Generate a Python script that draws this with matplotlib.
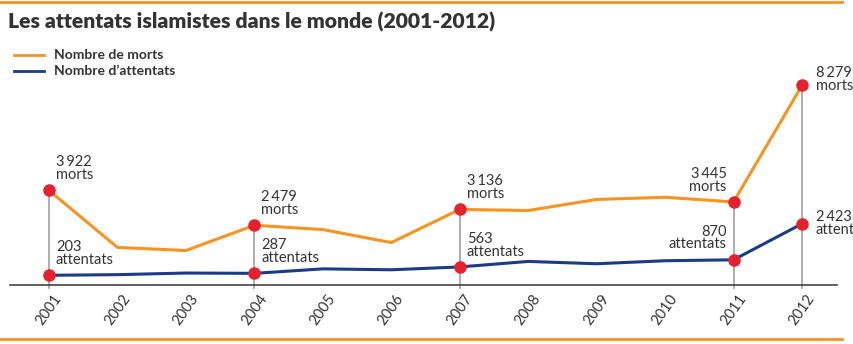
import matplotlib.pyplot as plt
from matplotlib.lines import Line2D

annees = [2001, 2002, 2003, 2004, 2005, 2006, 2007, 2008, 2009, 2010, 2011, 2012]
morts = [3922, 1560, 1430, 2479, 2300, 1760, 3136, 3090, 3550, 3640, 3445, 8279]
attentats = [203, 230, 300, 287, 480, 440, 563, 800, 700, 830, 870, 2423]

# annees mises en avant (points rouges + etiquettes)
annees_cles = [2001, 2004, 2007, 2011, 2012]
lab_morts = ["3\u2009922", "2\u2009479", "3\u2009136", "3\u2009445", "8\u2009279"]
lab_att = ["203", "287", "563", "870", "2\u2009423"]

ORANGE = "#F7931E"
BLEU = "#1B3A87"
ROUGE = "#E8202D"
TEXTE = "#333333"

plt.rcParams['font.family'] = ['Lato', 'DejaVu Sans']

fig = plt.figure(figsize=(8.54, 3.44), dpi=100)
W, H = 854, 344
ax = fig.add_axes([10 / W, 1 - 285 / H, 827 / W, 200 / H])
# la courbe des attentats n'est pas tout a fait a la meme echelle sur l'original
ax2 = ax.twinx()

ax.plot(annees, morts, color=ORANGE, lw=2.2, zorder=3)
ax2.plot(annees, attentats, color=BLEU, lw=2.2, zorder=3)

for a in annees_cles:
    i = annees.index(a)
    ax.plot([a, a], [-120, morts[i]], color="#A0A0A0", lw=1.2, zorder=2, clip_on=False)
    ax.plot([a], [morts[i]], 'o', color=ROUGE, ms=8, zorder=4, clip_on=False)
    ax2.plot([a], [attentats[i]], 'o', color=ROUGE, ms=8, zorder=4, clip_on=False)

# etiquettes
fs = 10.5
pos = {2001: ('left', 5), 2004: ('left', 5), 2007: ('left', 5), 2011: ('right', -5), 2012: ('left', 10)}
for k, a in enumerate(annees_cles):
    i = annees.index(a)
    ha, dx = pos[a]
    if a == 2012:
        ax.annotate(lab_morts[k] + "\nmorts", (a, morts[i]), xytext=(dx, 4), textcoords='offset points',
                    ha=ha, va='center', fontsize=fs, color=TEXTE, linespacing=0.9, annotation_clip=False)
        ax2.annotate(lab_att[k] + "\nattentats", (a, attentats[i]), xytext=(dx, 0), textcoords='offset points',
                     ha=ha, va='center', fontsize=fs, color=TEXTE, linespacing=0.9, annotation_clip=False)
    else:
        ax.annotate(lab_morts[k] + "\nmorts", (a, morts[i]), xytext=(dx, 6), textcoords='offset points',
                    ha=ha, va='bottom', fontsize=fs, color=TEXTE, linespacing=0.9)
        ax2.annotate(lab_att[k] + "\nattentats", (a, attentats[i]), xytext=(dx, 6), textcoords='offset points',
                     ha=ha, va='bottom', fontsize=fs, color=TEXTE, linespacing=0.9)

x0 = 2001 - 39 / 68.45
x1 = 2012 + 35 / 68.45
ax.set_xlim(x0, x1)
ax.set_ylim(0, 200 / 0.0241)
ax2.set_ylim(-5 / 0.0232, 195 / 0.0232)
for axe in (ax, ax2):
    for s in ['top', 'right', 'left']:
        axe.spines[s].set_visible(False)
    axe.set_yticks([])
ax2.spines['bottom'].set_visible(False)
ax.spines['bottom'].set_color("#444444")
ax.spines['bottom'].set_linewidth(1.2)
ax.set_xticks(annees)
ax.set_xticklabels([str(a) for a in annees], rotation=55, ha='center', va='top',
                   fontsize=10.5, color=TEXTE)
ax.tick_params(axis='x', length=0, pad=5)

# titre, legende, filets orange
fig.text(8 / W, 1 - 22 / H, "Les attentats islamistes dans le monde (2001-2012)",
         fontsize=15.2, fontweight='heavy', color=TEXTE, va='center', ha='left')
fig.add_artist(Line2D([0, 842 / W], [1 - 2 / H, 1 - 2 / H], color=ORANGE, lw=2))
fig.add_artist(Line2D([0, 842 / W], [1 - 339 / H, 1 - 339 / H], color=ORANGE, lw=2))
fig.add_artist(Line2D([14 / W, 44 / W], [1 - 55 / H, 1 - 55 / H], color=ORANGE, lw=2))
fig.add_artist(Line2D([14 / W, 44 / W], [1 - 71 / H, 1 - 71 / H], color=BLEU, lw=2))
fig.text(54 / W, 1 - 55 / H, "Nombre de morts", fontsize=10, fontweight='bold', color=TEXTE, va='center')
fig.text(54 / W, 1 - 71 / H, "Nombre d\u2019attentats", fontsize=10, fontweight='bold', color=TEXTE, va='center')

fig.savefig("out.png", dpi=100)
